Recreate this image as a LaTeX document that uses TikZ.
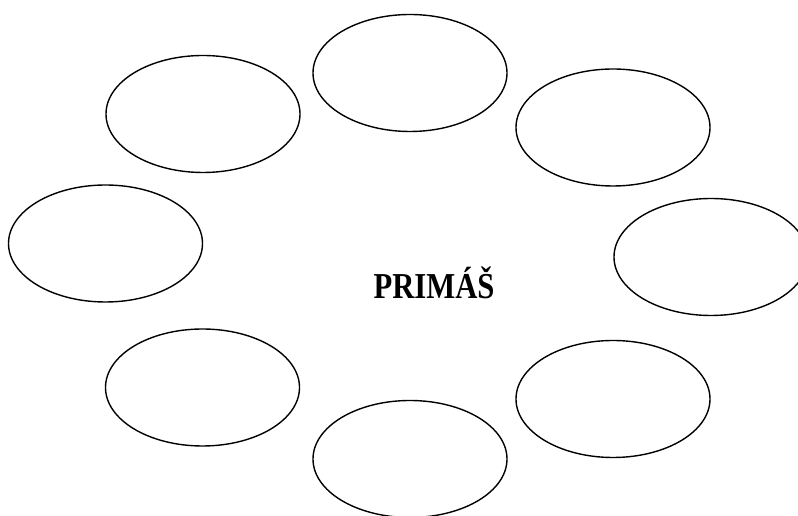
\documentclass[tikz,border=0pt]{standalone}
\usepackage{fontspec}
\setmainfont{Liberation Serif}
\usetikzlibrary{shapes.geometric}
\begin{document}
\begin{tikzpicture}[x=1pt,y=1pt,
  bubble/.style={draw=black, line width=1.4pt, ellipse, inner sep=0pt,
    minimum width=194pt, minimum height=117pt}]
\useasboundingbox (0,0) rectangle (798,516);
\clip (0,0) rectangle (798,516);
\node[bubble] (top) at (410,443) {};
\node[bubble] (tl) at (203,402) {};
\node[bubble] (tr) at (613,388.5) {};
\node[bubble] (l) at (105.5,272.5) {};
\node[bubble] (r) at (711,259) {};
\node[bubble] (bl) at (202.5,128.5) {};
\node[bubble] (br) at (613,117) {};
\node[bubble] (b) at (410,57) {};
\node[anchor=base, inner sep=0pt, font=\bfseries\fontsize{36.5}{40}\selectfont] (center) at (434,217) {\scalebox{0.84}[1]{PRIMÁŠ}};
\end{tikzpicture}
\end{document}
